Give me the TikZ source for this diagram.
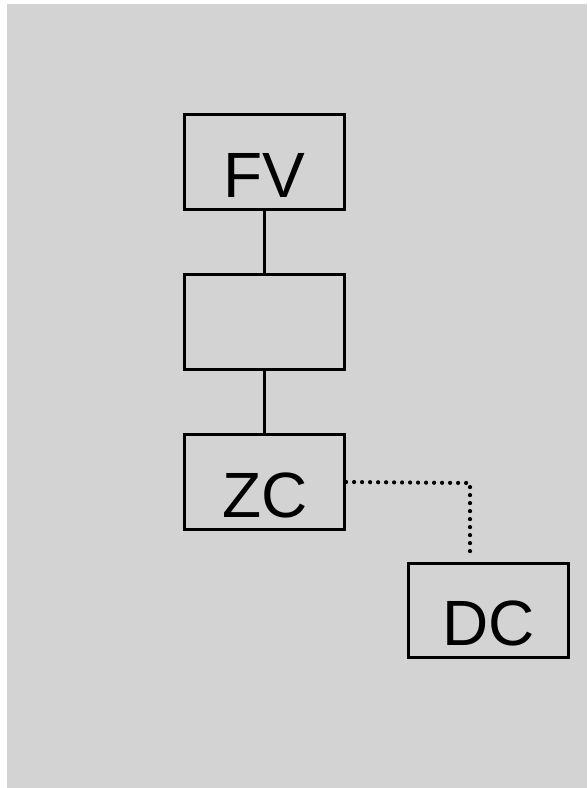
\documentclass[tikz,border=0pt]{standalone}
\usepackage{fontspec}
\setmainfont{Liberation Sans}
\usetikzlibrary{positioning}
\definecolor{bggray}{RGB}{211,211,211}
\tikzset{
    mybox/.style={draw=black,line width=2.8pt,minimum width=160pt,minimum height=94.5pt,
                  inner sep=0pt,text height=70pt,text depth=0pt,font=\fontsize{64}{70}\selectfont},
    myedge/.style={line width=2.8pt,draw=black},
    mydots/.style={line width=4.2pt,draw=black,line cap=round,dash pattern=on 0pt off 8pt},
}
\begin{document}
\begin{tikzpicture}[x=1pt,y=-1pt]
  \useasboundingbox (0,0) rectangle (587,788);
  \fill[bggray] (7,4) rectangle (587,788);
  \node[mybox] (fv) at (264.7,162) {FV};
  \node[mybox,below=62.7pt of fv] (mid) {};
  \node[mybox,below=62.7pt of mid] (zc) {ZC};
  \node[mybox] (dc) at (488.5,610.5) {DC};
  \coordinate (bend) at (470,483);
  \draw[myedge] (fv) -- (mid);
  \draw[myedge] (mid) -- (zc);
  \draw[mydots,shorten >=7pt] (zc.east) -- (bend) -- (bend |- dc.north);
\end{tikzpicture}
\end{document}
